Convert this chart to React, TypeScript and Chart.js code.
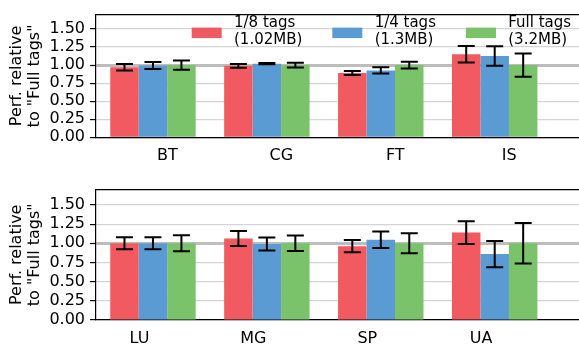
import React, { useEffect, useRef } from 'react';
import { Chart, registerables } from 'chart.js';

Chart.register(...registerables);

// ---- data ----
const seriesNames = ['1/8 tags', '1/4 tags', 'Full tags'];
const seriesSizes = ['(1.02MB)', '(1.3MB)', '(3.2MB)'];
const seriesColors = ['#F15A60', '#5A9BD4', '#7AC36A'];

const topCategories = ['BT', 'CG', 'FT', 'IS'];
const topEighth = [0.97, 0.99, 0.89, 1.15];
const topEighthErr = [0.046, 0.027, 0.028, 0.114];
const topQuarter = [0.995, 1.02, 0.927, 1.125];
const topQuarterErr = [0.049, 0.008, 0.042, 0.135];
const topFull = [1.0, 1.0, 1.0, 1.0];
const topFullErr = [0.064, 0.033, 0.048, 0.162];

const bottomCategories = ['LU', 'MG', 'SP', 'UA'];
const bottomEighth = [1.0, 1.063, 0.963, 1.14];
const bottomEighthErr = [0.078, 0.098, 0.08, 0.148];
const bottomQuarter = [1.0, 0.99, 1.047, 0.86];
const bottomQuarterErr = [0.078, 0.085, 0.107, 0.171];
const bottomFull = [1.0, 1.0, 1.0, 1.0];
const bottomFullErr = [0.104, 0.1, 0.13, 0.265];

const yTickValues = [0, 0.25, 0.5, 0.75, 1.0, 1.25, 1.5];
const yMax = 1.7;
const yTitle = ['Perf. relative', 'to "Full tags"'];

const FONT = "'DejaVu Sans'";

Chart.defaults.font.family = FONT;
Chart.defaults.color = '#000';

const errorBarsPlugin = {
  id: 'errorBars',
  afterDatasetsDraw(chart: any) {
    const ctx = chart.ctx;
    const y = chart.scales.y;
    ctx.save();
    ctx.strokeStyle = '#000';
    ctx.lineWidth = 2;
    chart.data.datasets.forEach((ds: any, d: number) => {
      const meta = chart.getDatasetMeta(d);
      meta.data.forEach((el: any, i: number) => {
        const v = ds.data[i].y;
        const e = ds.errors[i];
        const top = y.getPixelForValue(v + e);
        const bot = y.getPixelForValue(v - e);
        const x = el.x;
        ctx.beginPath();
        ctx.moveTo(x, top);
        ctx.lineTo(x, bot);
        ctx.moveTo(x - 8.5, top);
        ctx.lineTo(x + 8.5, top);
        ctx.moveTo(x - 8.5, bot);
        ctx.lineTo(x + 8.5, bot);
        ctx.stroke();
      });
    });
    ctx.restore();
  },
};

const topSpinePlugin = {
  id: 'topSpine',
  afterDraw(chart: any) {
    const { ctx, chartArea } = chart;
    ctx.save();
    ctx.strokeStyle = '#000';
    ctx.lineWidth = 1.2;
    ctx.beginPath();
    ctx.moveTo(chartArea.left, chartArea.top);
    ctx.lineTo(chartArea.right, chartArea.top);
    ctx.stroke();
    ctx.restore();
  },
};

const legendPlugin = {
  id: 'twoLineLegend',
  afterDraw(chart: any) {
    if (!chart.options.plugins.twoLineLegend?.show) return;
    const { ctx, chartArea } = chart;
    ctx.save();
    ctx.font = `15px ${FONT}`;
    ctx.textBaseline = 'middle';
    ctx.textAlign = 'left';
    let x = chartArea.left + 95.7;
    const top = chartArea.top;
    chart.data.datasets.forEach((ds: any) => {
      ctx.fillStyle = ds.backgroundColor;
      ctx.fillRect(x, top + 13, 30, 10.5);
      ctx.fillStyle = '#000';
      const tx = x + 42.3;
      const lines: string[] = ds.legendLines;
      lines.forEach((t, k) => ctx.fillText(t, tx, top + 9 + k * 16.9));
      const w = Math.max(...lines.map((t) => ctx.measureText(t).width));
      x = tx + w + 30;
    });
    ctx.restore();
  },
};

type PanelProps = {
  categories: string[];
  values: number[][];
  errors: number[][];
  height: number;
  padTop: number;
  axisHeight: number;
  labelOffset: number;
  showLegend: boolean;
};

function Panel(props: PanelProps) {
  const ref = useRef<HTMLCanvasElement | null>(null);
  useEffect(() => {
    if (!ref.current) return;
    const cats = props.categories;
    const chart = new Chart(ref.current, {
      type: 'bar',
      data: {
        datasets: props.values.map((vals, d) => ({
          label: `${seriesNames[d]} ${seriesSizes[d]}`,
          legendLines: [seriesNames[d], seriesSizes[d]],
          data: vals.map((v, i) => ({ x: i, y: v })),
          errors: props.errors[d],
          backgroundColor: seriesColors[d],
          borderWidth: 0,
          categoryPercentage: 0.75,
          barPercentage: 1.0,
        })) as any,
      },
      options: {
        responsive: false,
        maintainAspectRatio: false,
        animation: false,
        layout: { padding: { top: props.padTop, left: 0, right: 0, bottom: 0 } },
        plugins: {
          legend: { display: false },
          tooltip: { enabled: false },
          twoLineLegend: { show: props.showLegend },
        } as any,
        scales: {
          x: {
            type: 'linear',
            min: -0.5,
            max: 3.74,
            offset: false,
            afterBuildTicks: (axis: any) => {
              axis.ticks = cats.map((_, i) => ({ value: i }));
            },
            afterFit: (axis: any) => {
              axis.height = props.axisHeight;
            },
            ticks: {
              callback: (v: any) => cats[v as number],
              font: { size: 16, family: FONT },
              color: '#000',
              padding: 9,
              labelOffset: props.labelOffset,
              maxRotation: 0,
              autoSkip: false,
            },
            grid: { display: false, drawTicks: false, offset: false },
            border: { display: true, color: '#000', width: 1.2 },
          },
          y: {
            type: 'linear',
            position: 'left',
            min: 0,
            max: yMax,
            afterBuildTicks: (axis: any) => {
              axis.ticks = yTickValues.map((v) => ({ value: v }));
            },
            afterFit: (axis: any) => {
              axis.width = 96;
            },
            ticks: {
              callback: (v: any) => Number(v).toFixed(2),
              font: { size: 16, family: FONT },
              color: '#000',
              padding: 5,
              autoSkip: false,
            },
            grid: {
              color: (c: any) => (c.tick && c.tick.value === 1 ? '#bdbdbd' : '#d4d4d4'),
              lineWidth: (c: any) => (c.tick && c.tick.value === 1 ? 3 : 1.2),
              tickColor: '#000',
              tickLength: 6,
              tickWidth: 1.2,
            },
            border: { display: true, color: '#000', width: 1.2 },
            title: {
              display: true,
              text: yTitle,
              color: '#000',
              font: { size: 16, lineHeight: 1.12, family: FONT },
              padding: { top: 8, bottom: 0 },
            },
          },
        },
      } as any,
      plugins: [errorBarsPlugin, topSpinePlugin, legendPlugin] as any,
    });
    return () => chart.destroy();
  }, []);
  return (
    <canvas
      ref={ref}
      width={579}
      height={props.height}
      style={{ display: 'block', width: 579, height: props.height }}
    />
  );
}

export default function App() {
  return (
    <div style={{ position: 'absolute', left: 0, top: 0, width: 579, height: 345, background: '#fff', overflow: 'hidden' }}>
      <Panel
        categories={topCategories}
        values={[topEighth, topQuarter, topFull]}
        errors={[topEighthErr, topQuarterErr, topFullErr]}
        height={175}
        padTop={7}
        axisHeight={37.7}
        labelOffset={14.5}
        showLegend={true}
      />
      <Panel
        categories={bottomCategories}
        values={[bottomEighth, bottomQuarter, bottomFull]}
        errors={[bottomEighthErr, bottomQuarterErr, bottomFullErr]}
        height={170}
        padTop={14.3}
        axisHeight={25}
        labelOffset={-13.5}
        showLegend={false}
      />
    </div>
  );
}
